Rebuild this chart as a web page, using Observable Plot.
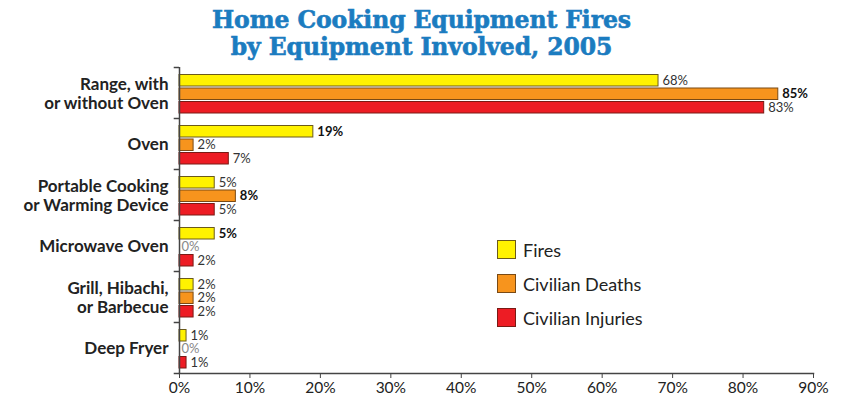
<!DOCTYPE html>
<html>
<head>
<meta charset="utf-8">
<script src="https://cdn.jsdelivr.net/npm/d3@7"></script>
<script src="https://cdn.jsdelivr.net/npm/@observablehq/plot@0.6"></script>
<style>
  html, body { margin: 0; padding: 0; background: #fff; }
  #wrap { position: relative; width: 843px; height: 404px; overflow: hidden; }
  #title { height: 62px; text-align: center; font-family: "DejaVu Serif", serif; font-weight: bold;
           color: #1b7cc0; font-size: 23.5px; line-height: 27px; padding-top: 7px; box-sizing: border-box;
           -webkit-text-stroke: 0.6px #1b7cc0; letter-spacing: -0.1px; }
  #legend { position: absolute; left: 497px; top: 240px; font-family: Lato, sans-serif; font-size: 18px; color: #222; }
  .item { display: flex; align-items: center; height: 19px; margin-bottom: 15px; }
  .sw { width: 17px; height: 17px; border: 1px solid #6b5a2a; margin-right: 7px; }
</style>
</head>
<body>
<div id="wrap">
  <div id="title">Home Cooking Equipment Fires<br>by Equipment Involved, 2005</div>
  <div id="chart"></div>
  <div id="legend"></div>
</div>
<script>
const categories = [
  "Range, with\nor without Oven",
  "Oven",
  "Portable Cooking\nor Warming Device",
  "Microwave Oven",
  "Grill, Hibachi,\nor Barbecue",
  "Deep Fryer"
];
const seriesNames = ["Fires", "Civilian Deaths", "Civilian Injuries"];
const fires    = [68, 19, 5, 5, 2, 1];
const deaths   = [85, 2, 8, 0, 2, 0];
const injuries = [83, 7, 5, 2, 2, 1];
const xTicks = [0, 10, 20, 30, 40, 50, 60, 70, 80, 90];

const colors = ["#fff200", "#f7941d", "#ed1c24"];
const strokes = ["#6b5a1a", "#7a4a14", "#7a1a14"];
const seriesValues = [fires, deaths, injuries];

const rows = categories.flatMap((c, i) => seriesNames.map((s, j) => ({category: c, series: s, idx: j, value: seriesValues[j][i]})));
// bold = unique maximum within a category
rows.forEach(r => {
  const vals = seriesValues.map(a => a[categories.indexOf(r.category)]);
  const mx = Math.max(...vals);
  r.bold = r.value === mx && vals.filter(v => v === mx).length === 1;
});

const band = 51;
const barTop = [7.5, 21, 34.5];
const barH = 11.5;

const marks = [];
seriesNames.forEach((s, j) => {
  const sub = rows.filter(r => r.idx === j);
  const dy = barTop[j] + barH / 2 - band / 2;
  marks.push(Plot.barX(sub.filter(r => r.value > 0), {
    x: "value", y: "category", fill: colors[j], stroke: strokes[j], strokeWidth: 1,
    insetTop: barTop[j], insetBottom: band - barTop[j] - barH
  }));
  marks.push(Plot.text(sub.filter(r => r.bold), {
    x: "value", y: "category", text: d => d.value + "%", dx: 4, dy, textAnchor: "start",
    fontSize: 13, fontWeight: "bold", fill: "#111"
  }));
  marks.push(Plot.text(sub.filter(r => !r.bold && r.value > 0), {
    x: "value", y: "category", text: d => d.value + "%", dx: 4, dy, textAnchor: "start",
    fontSize: 13, fill: "#333"
  }));
  marks.push(Plot.text(sub.filter(r => r.value === 0), {
    x: "value", y: "category", text: d => d.value + "%", dx: 2, dy, textAnchor: "start",
    fontSize: 13, fill: "#888"
  }));
});

const chart = Plot.plot({
  width: 843,
  height: 342,
  marginLeft: 179,
  marginRight: 30,
  marginTop: 5,
  marginBottom: 31,
  style: {fontFamily: "Lato, sans-serif", background: "transparent", overflow: "visible"},
  x: {domain: [0, 90]},
  y: {domain: categories, padding: 0},
  marks: [
    ...marks,
    Plot.ruleX([0], {stroke: "#444", strokeWidth: 1.5}),
    Plot.ruleY(categories, {y: d => d, x1: -0.75, x2: 0, dy: -band / 2, stroke: "#444", strokeWidth: 1.5}),
    Plot.ruleY(categories.slice(-1), {y: d => d, x1: -0.75, x2: 0, dy: band / 2, stroke: "#444", strokeWidth: 1.5}),
    Plot.frame({anchor: "bottom", stroke: "#444", strokeWidth: 1.5}),
    Plot.axisX({ticks: xTicks, tickFormat: d => d + "%", tickSize: 5, tickPadding: 3, fontSize: 15.5, stroke: "#444", fill: "#222", label: null}),
    Plot.axisY({tickSize: 0, tickPadding: 11, fontSize: 17, fontWeight: "bold", lineHeight: 1.12, fill: "#222", label: null})
  ]
});
document.getElementById("chart").appendChild(chart);

const legend = document.getElementById("legend");
seriesNames.forEach((s, j) => {
  const it = document.createElement("div");
  it.className = "item";
  const sw = document.createElement("div");
  sw.className = "sw";
  sw.style.background = colors[j];
  sw.style.borderColor = strokes[j];
  const tx = document.createElement("span");
  tx.textContent = s;
  it.appendChild(sw); it.appendChild(tx);
  legend.appendChild(it);
});
</script>
</body>
</html>
